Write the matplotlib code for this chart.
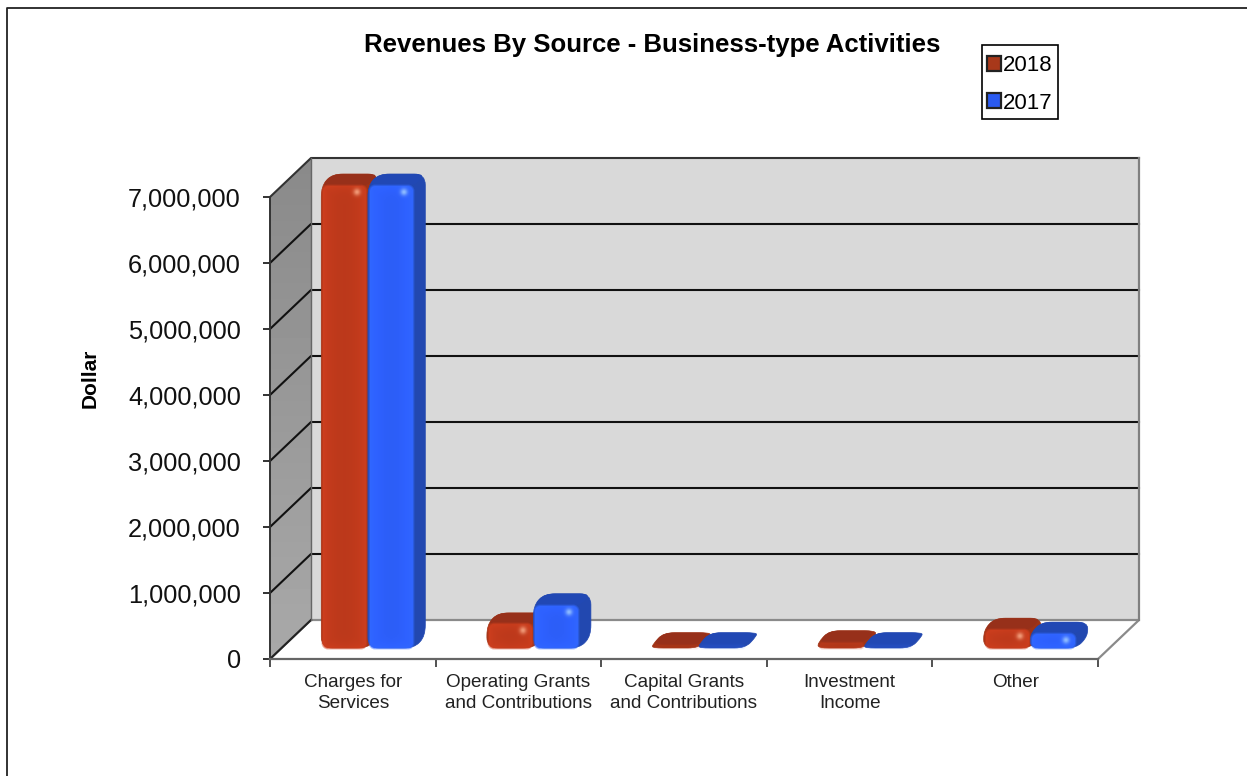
import numpy as np
import matplotlib
matplotlib.use('Agg')
import matplotlib.pyplot as plt
from matplotlib.lines import Line2D
from matplotlib.patches import Patch, PathPatch, Polygon, Rectangle
from matplotlib.path import Path

plt.rcParams['font.family'] = ['Liberation Sans', 'DejaVu Sans']

TITLE = 'Revenues By Source - Business-type Activities'
categories = ['Charges for\nServices', 'Operating Grants\nand Contributions',
              'Capital Grants\nand Contributions', 'Investment\nIncome', 'Other']
values_2018 = [7000000, 350000, 50000, 80000, 270000]
values_2017 = [7000000, 640000, 50000, 50000, 210000]
y_ticks = [0, 1000000, 2000000, 3000000, 4000000, 5000000, 6000000, 7000000]

W, H = 1247, 776
LEFT, RIGHT, FLOOR, TOP = 270, 1098, 659, 197
X_PX = (RIGHT - LEFT) / len(categories)
Y_PX = (FLOOR - TOP) / 7000000
DEPTH_X, DEPTH_Y = 41, 39
RED = {'front': (0.76, 0.23, 0.11), 'top': '#97301A', 'side': '#A03316', 'spot': (1.0, 0.72, 0.58)}
BLUE = {'front': (0.18, 0.38, 1.0), 'top': '#2148B4', 'side': '#2248B0', 'spot': (0.68, 0.85, 1.0)}


def dx(px):
    return px / X_PX


def dy(px):
    return px / Y_PX


def rounded_path(points, radius):
    # corners get quadratic curves, worked out in pixel space so they stay round
    pts = np.array([(x * X_PX, y * Y_PX) for x, y in points])
    verts, codes = [], []
    n = len(pts)
    for i in range(n):
        p, prev, nxt = pts[i], pts[i - 1], pts[(i + 1) % n]
        r1 = min(radius, np.linalg.norm(prev - p) * 0.45)
        r2 = min(radius, np.linalg.norm(nxt - p) * 0.45)
        a = p + (prev - p) / max(np.linalg.norm(prev - p), 1e-6) * r1
        b = p + (nxt - p) / max(np.linalg.norm(nxt - p), 1e-6) * r2
        verts += [a, p, b]
        codes += [Path.MOVETO if i == 0 else Path.LINETO, Path.CURVE3, Path.CURVE3]
    verts.append(verts[0])
    codes.append(Path.CLOSEPOLY)
    return Path(np.array(verts) / [X_PX, Y_PX], codes)


def front_face(width, height, color, spot):
    # RGBA raster of a soft rounded rectangle, with bevel and specular spot
    radius = min(7.0, min(width, height) / 2)
    yy, xx = np.mgrid[0:height, 0:width] + 0.5
    qx = np.abs(xx - width / 2) - (width / 2 - radius)
    qy = np.abs(yy - height / 2) - (height / 2 - radius)
    dist = np.hypot(np.maximum(qx, 0), np.maximum(qy, 0)) + np.minimum(np.maximum(qx, qy), 0) - radius
    # very short bars barely show a front face
    alpha = np.clip(-dist / 2.5, 0, 1) * min(1.0, max(height - 6, 0) / 6.0)
    shade = 1.0 + 0.10 * np.exp(dist / 5.0) - 0.03 * np.exp(-((xx - width / 2) / 14.0) ** 2)
    rgb = np.clip(np.array(color)[None, None, :] * shade[:, :, None], 0, 1)
    if height > 12:
        glow = 0.75 * np.exp(-(((xx - (width - 11)) / 3.5) ** 2 + ((yy - 8) / 3.5) ** 2))
        rgb = rgb * (1 - glow[:, :, None]) + np.array(spot)[None, None, :] * glow[:, :, None]
    return np.dstack([rgb, alpha])


def draw_bar(ax, x_left, value, colors):
    width = dx(46.5)
    base = dy(11)
    depth_x, depth_y = dx(11), dy(12)
    top = base + value
    x_right = x_left + width
    body = [(x_left, base), (x_left, top), (x_left + depth_x, top + depth_y),
            (x_right + depth_x, top + depth_y), (x_right + depth_x, base + depth_y),
            (x_right, base)]
    ax.add_patch(PathPatch(rounded_path(body, 11), fc=colors['side'], ec=colors['side'], lw=0.5,
                           clip_on=False, zorder=4))
    upper = [(x_left, top), (x_left + depth_x, top + depth_y),
             (x_right + depth_x, top + depth_y), (x_right, top)]
    ax.add_patch(PathPatch(rounded_path(upper, 9), fc=colors['top'], ec='none',
                           clip_on=False, zorder=4))
    height_px = max(int(round(value * Y_PX)) + 4, 4)
    face = front_face(47, height_px, colors['front'], colors['spot'])
    ax.imshow(face, extent=(x_left, x_right, top + dy(2 - height_px), top + dy(2)), origin='upper',
              aspect='auto', clip_on=False, zorder=5, interpolation='bilinear')


fig = plt.figure(figsize=(W / 100, H / 100), dpi=100)
ax = fig.add_axes([LEFT / W, 1 - FLOOR / H, (RIGHT - LEFT) / W, (FLOOR - TOP) / H])
ax.patch.set_visible(False)

# walls of the 3D box
depth_dx, depth_dy = dx(DEPTH_X), dy(DEPTH_Y)
xmax = len(categories)
ymax = y_ticks[-1]
ax.add_patch(Polygon([(depth_dx, depth_dy), (xmax + depth_dx, depth_dy),
                      (xmax + depth_dx, ymax + depth_dy), (depth_dx, ymax + depth_dy)],
                     fc='#D9D9D9', ec='none', clip_on=False, zorder=1))
side = Polygon([(0, 0), (depth_dx, depth_dy), (depth_dx, ymax + depth_dy), (0, ymax)],
               fc='#969696', ec='none', clip_on=False, zorder=1)
ax.add_patch(side)
wall_shade = ax.imshow(np.linspace(0.54, 0.66, 64)[:, None], cmap='gray', vmin=0, vmax=1,
                       extent=(0, depth_dx, 0, ymax + depth_dy), origin='upper', aspect='auto',
                       zorder=1.1)
wall_shade.set_clip_box(fig.bbox)
wall_shade.set_clip_path(side)

for tick in y_ticks[1:]:
    ax.plot([0, depth_dx, xmax + depth_dx], [tick, tick + depth_dy, tick + depth_dy],
            color='#111111' if tick < ymax else '#333333', lw=1.5, clip_on=False, zorder=2)
ax.plot([0, depth_dx, xmax + depth_dx, xmax], [0, depth_dy, depth_dy, 0],
        color='#8A8A8A', lw=1.6, clip_on=False, zorder=2)
ax.plot([0, depth_dx], [0, depth_dy], color='#222222', lw=1.5, clip_on=False, zorder=2)
ax.plot([depth_dx, depth_dx], [depth_dy, ymax + depth_dy], color='#666666', lw=1.0, clip_on=False, zorder=2)
ax.plot([xmax + depth_dx] * 2, [depth_dy, ymax + depth_dy], color='#808080', lw=1.6, clip_on=False, zorder=2)

for i, (v18, v17) in enumerate(zip(values_2018, values_2017)):
    split = i + 0.5 + dx(15)
    draw_bar(ax, split - dx(46.5), v18, RED)
    draw_bar(ax, split, v17, BLUE)
ax.set_xlim(0, len(categories))
ax.set_ylim(0, 7000000)

for name in ('top', 'right'):
    ax.spines[name].set_visible(False)
ax.spines['left'].set_color('#333333')
ax.spines['left'].set_linewidth(1.4)
ax.spines['bottom'].set_color('#666666')
ax.spines['bottom'].set_linewidth(1.6)
ax.set_yticks(y_ticks)
ax.set_yticklabels([f'{t:,}' for t in y_ticks], fontsize=18.3, color='#111111')
ax.tick_params(axis='y', length=5, width=1.4, color='#333333', pad=16)
ax.set_xticks(range(len(categories) + 1))
ax.set_xticklabels([])
ax.tick_params(axis='x', which='major', length=6, width=1.2, color='#333333')
ax.set_xticks([i + 0.5 for i in range(len(categories))], minor=True)
ax.set_xticklabels(categories, minor=True, fontsize=13.6, color='#222222', linespacing=1.33)
ax.tick_params(axis='x', which='minor', length=0, pad=10.5)

fig.text(652 / W, 1 - 45 / H, TITLE, fontsize=18.5, fontweight='bold', ha='center', va='center')
fig.text(90 / W, 1 - 378 / H, 'Dollar', fontsize=15, fontweight='bold', rotation=90, ha='center', va='center')

# legend text and swatches sit inside a hand-sized box
fig.add_artist(Rectangle((982 / W, 1 - 119 / H), 76 / W, 74 / H, fc='white', ec='black', lw=1.2,
                         transform=fig.transFigure))
handles = [Patch(fc='#A8381A', ec='#222222', lw=1.6, label='2018'),
           Patch(fc='#2A5AF0', ec='#222222', lw=1.6, label='2017')]
fig.legend(handles=handles, loc='upper left', bbox_to_anchor=(987 / W, 1 - 55 / H), fontsize=16,
           frameon=False, borderpad=0, labelspacing=0.75, handlelength=0.65, handleheight=0.65,
           handletextpad=0.08, borderaxespad=0)

# outer frame, drawn along the left and top edges only
frame_x = [6.5 / W, 6.5 / W, 1]
frame_y = [0, 1 - 8 / H, 1 - 8 / H]
fig.add_artist(Line2D(frame_x, frame_y, color='#222222', lw=1.3, transform=fig.transFigure))

fig.savefig('out.png', dpi=100)
